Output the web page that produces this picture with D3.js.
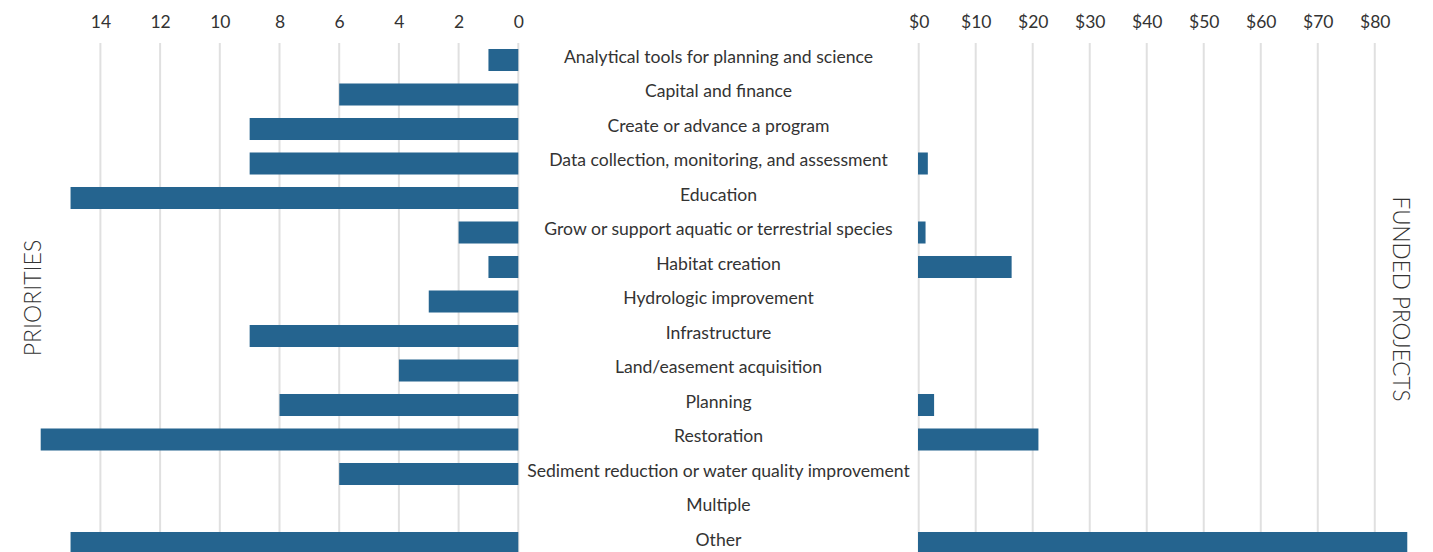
<!DOCTYPE html>
<html>
<head>
<meta charset="utf-8">
<script src="https://cdn.jsdelivr.net/npm/d3@7"></script>
<style>
  html, body { margin: 0; padding: 0; background: #fff; }
  svg { display: block; font-family: Lato, "Open Sans", sans-serif; }
</style>
</head>
<body>
<svg id="chart" width="1433" height="552"></svg>
<script>
const categories = [
  "Analytical tools for planning and science",
  "Capital and finance",
  "Create or advance a program",
  "Data collection, monitoring, and assessment",
  "Education",
  "Grow or support aquatic or terrestrial species",
  "Habitat creation",
  "Hydrologic improvement",
  "Infrastructure",
  "Land/easement acquisition",
  "Planning",
  "Restoration",
  "Sediment reduction or water quality improvement",
  "Multiple",
  "Other"
];
const priorities = [1, 6, 9, 9, 15, 2, 1, 3, 9, 4, 8, 16, 6, 0, 15];
const fundedProjects = [0, 0, 0, 1.6, 0, 1.2, 16.3, 0, 0, 0, 2.7, 21, 0, 0, 85.7];
const priorityTicks = [0, 2, 4, 6, 8, 10, 12, 14];
const fundedTicks = [0, 10, 20, 30, 40, 50, 60, 70, 80];

const svg = d3.select("#chart");
const barColor = "#25648f";
const gridColor = "#e0e0e0";
const textColor = "#333";

const y = d3.scaleBand().domain(categories).range([42.75, 560.25])
  .paddingInner(0.362).paddingOuter(0.181);

const xL = d3.scaleLinear().domain([0, 17]).range([518.3, 518.3 - 17 * 29.85]);
const xR = d3.scaleLinear().domain([0, 90]).range([918.7, 918.7 + 90 * 5.701]);

// gridlines
const grid = svg.append("g");
grid.selectAll("line.l").data(priorityTicks).join("line")
  .attr("x1", d => xL(d)).attr("x2", d => xL(d))
  .attr("y1", 43).attr("y2", 552)
  .attr("stroke", gridColor).attr("stroke-width", 2);
grid.selectAll("line.r").data(fundedTicks).join("line")
  .attr("x1", d => xR(d)).attr("x2", d => xR(d))
  .attr("y1", 43).attr("y2", 552)
  .attr("stroke", gridColor).attr("stroke-width", 2);

// axes (labels only)
const axL = svg.append("g").attr("transform", "translate(0,28)")
  .call(d3.axisTop(xL).tickValues(priorityTicks).tickSize(0).tickPadding(0));
const axR = svg.append("g").attr("transform", "translate(0,28)")
  .call(d3.axisTop(xR).tickValues(fundedTicks).tickFormat(d => "$" + d).tickSize(0).tickPadding(0));
[axL, axR].forEach(ax => {
  ax.select(".domain").remove();
  ax.selectAll("text").attr("font-size", 17.5).attr("fill", textColor)
    .attr("font-family", "Lato, 'Open Sans', sans-serif");
});

// bars
svg.append("g").selectAll("rect").data(categories.map((c, i) => ({c, v: priorities[i]})).filter(d => d.v > 0))
  .join("rect")
  .attr("x", d => xL(d.v)).attr("width", d => xL(0) - xL(d.v))
  .attr("y", d => y(d.c)).attr("height", y.bandwidth())
  .attr("fill", barColor);
svg.append("g").selectAll("rect").data(categories.map((c, i) => ({c, v: fundedProjects[i]})).filter(d => d.v > 0))
  .join("rect")
  .attr("x", xR(0) - 0.7).attr("width", d => xR(d.v) - xR(0) + 0.7)
  .attr("y", d => y(d.c)).attr("height", y.bandwidth())
  .attr("fill", barColor);

// category labels
svg.append("g").selectAll("text").data(categories).join("text")
  .attr("x", 718.5).attr("y", d => y(d) + y.bandwidth() / 2)
  .attr("dy", "0.17em").attr("text-anchor", "middle")
  .attr("font-size", 17.6).attr("fill", textColor).text(d => d);

// side titles
svg.append("text").attr("transform", "translate(41,298) rotate(-90)")
  .attr("text-anchor", "middle").attr("font-size", 23).attr("font-weight", 300)
  .attr("fill", textColor).text("PRIORITIES");
svg.append("text").attr("transform", "translate(1393,299) rotate(90)")
  .attr("text-anchor", "middle").attr("font-size", 22.5).attr("font-weight", 300)
  .attr("fill", textColor).text("FUNDED PROJECTS");
</script>
</body>
</html>
